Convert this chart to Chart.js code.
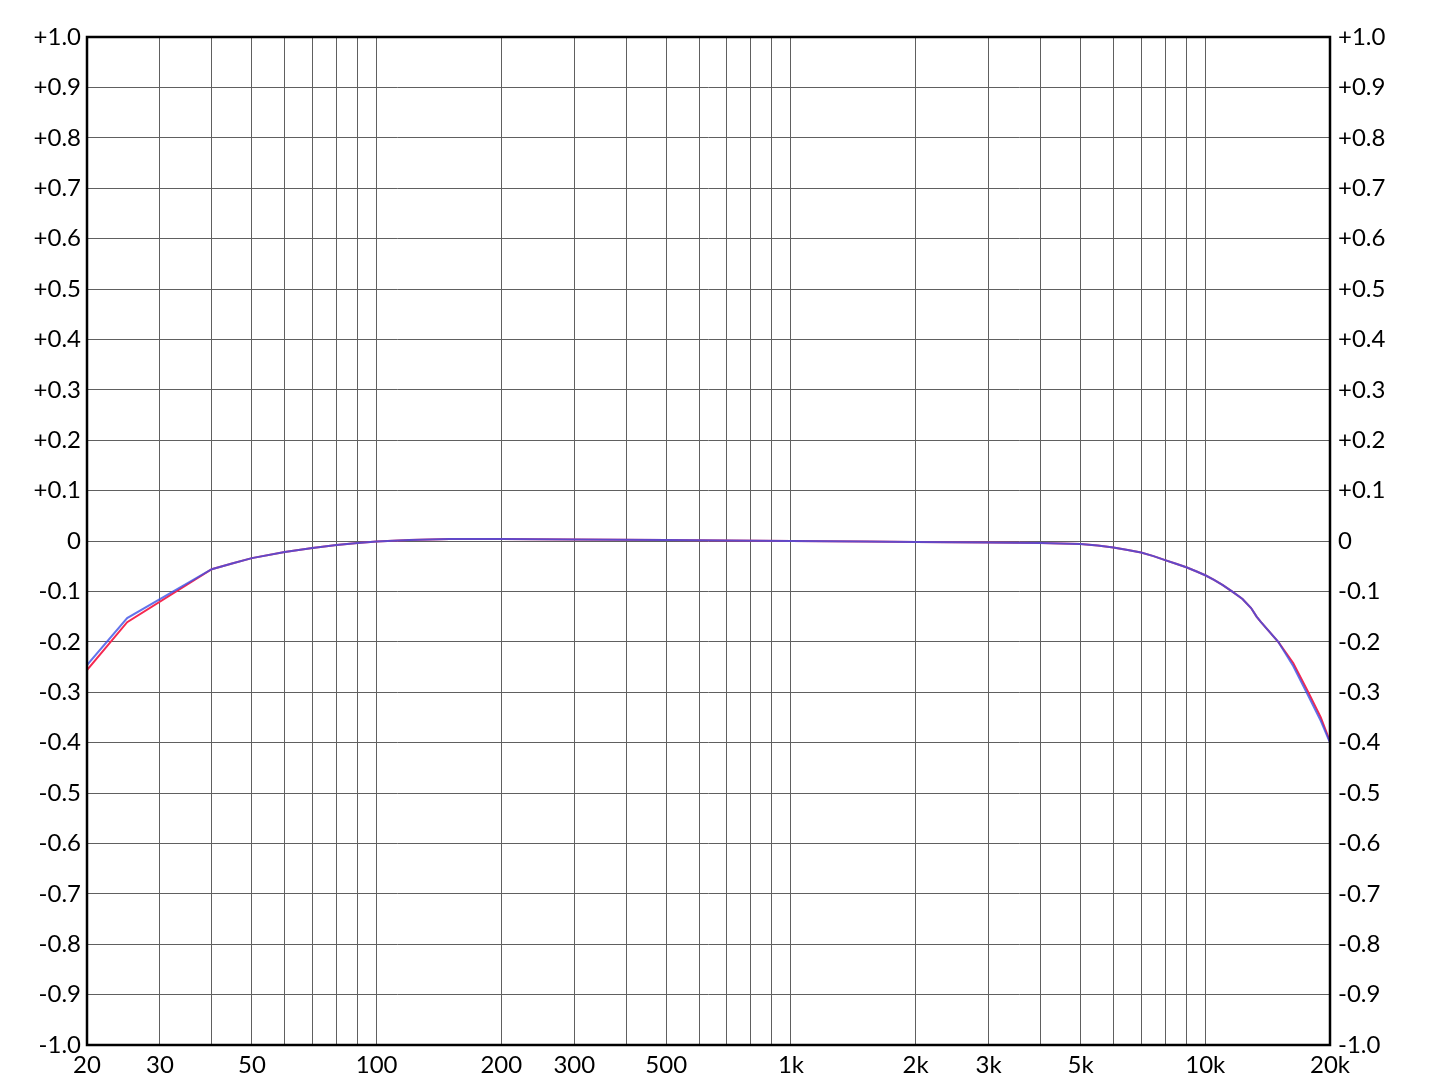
<!DOCTYPE html>
<html>
<head>
<meta charset="utf-8">
<script src="https://cdn.jsdelivr.net/npm/chart.js@4"></script>
<style>
	html, body { margin: 0; padding: 0; background: #fff; }
	#wrap { width: 1440px; height: 1080px; }
</style>
</head>
<body>
<div id="wrap"><canvas id="resp" width="1440" height="1080"></canvas></div>
<script>
// frequency points (Hz)
const freqs = [20, 25, 40, 45, 50, 60, 70, 80, 90, 100, 120, 150, 200, 300, 500, 700, 1000, 1500, 2000, 3000, 4000, 5000, 5500, 6000, 6500, 7000, 7500, 8000, 8500, 9000, 9500, 10000, 10500, 11000, 11600, 12300, 12900, 13300, 13600, 15000, 16300, 17700, 19000, 20000];
// level deviation, red channel
const redValues = [-0.256, -0.161, -0.056, -0.044, -0.034, -0.022, -0.014, -0.008, -0.004, -0.001, 0.002, 0.004, 0.004, 0.003, 0.002, 0.001, 0, -0.001, -0.002, -0.003, -0.004, -0.006, -0.009, -0.013, -0.018, -0.023, -0.030, -0.038, -0.045, -0.052, -0.060, -0.068, -0.077, -0.087, -0.100, -0.115, -0.133, -0.150, -0.160, -0.200, -0.242, -0.299, -0.350, -0.398];
// level deviation, blue channel
const blueValues = [-0.246, -0.153, -0.056, -0.044, -0.034, -0.022, -0.014, -0.008, -0.004, -0.001, 0.002, 0.004, 0.004, 0.003, 0.002, 0.001, 0, -0.001, -0.002, -0.003, -0.004, -0.006, -0.009, -0.013, -0.018, -0.023, -0.030, -0.038, -0.045, -0.052, -0.060, -0.068, -0.077, -0.087, -0.100, -0.115, -0.133, -0.150, -0.160, -0.200, -0.248, -0.306, -0.357, -0.400];
// vertical grid lines and which of them get a label
const gridFreqs = [20, 30, 40, 50, 60, 70, 80, 90, 100, 200, 300, 400, 500, 600, 700, 800, 900, 1000, 2000, 3000, 4000, 5000, 6000, 7000, 8000, 9000, 10000, 20000];
const labelFreqs = {20: "20", 30: "30", 50: "50", 100: "100", 200: "200", 300: "300", 500: "500", 1000: "1k", 2000: "2k", 3000: "3k", 5000: "5k", 10000: "10k", 20000: "20k"};

const font = { family: "Lato", size: 24 };

function yLabel(v) {
	const r = Math.round(v * 10) / 10;
	if (r === 0) return "0";
	return (r > 0 ? "+" : "") + r.toFixed(1);
}

/*black frame round the plot*/
const frame = {
	id: "frame",
	afterDraw(chart) {
		const a = chart.chartArea;
		const ctx = chart.ctx;
		ctx.save();
		ctx.strokeStyle = "#000";
		ctx.lineWidth = 2.5;
		ctx.strokeRect(a.left, a.top, a.right - a.left, a.bottom - a.top);
		ctx.restore();
	}
};

new Chart(document.getElementById("resp"), {
	type: "line",
	data: {
		datasets: [
			{
				label: "L",
				data: freqs.map((f, i) => ({ x: f, y: blueValues[i] })),
				borderColor: "rgba(60,80,230,0.8)",
				borderWidth: 2,
				pointRadius: 0,
				tension: 0
			},
			{
				label: "R",
				data: freqs.map((f, i) => ({ x: f, y: redValues[i] })),
				borderColor: "rgb(245,40,80)",
				borderWidth: 2,
				pointRadius: 0,
				tension: 0
			}
		]
	},
	options: {
		responsive: false,
		animation: false,
		layout: { padding: { top: 37, bottom: 0, left: 0, right: 0 } },
		plugins: { legend: { display: false }, tooltip: { enabled: false } },
		scales: {
			x: {
				type: "logarithmic",
				min: 20,
				max: 20000,
				afterBuildTicks: (scale) => {
					scale.ticks = gridFreqs.map((v) => ({ value: v }));
				},
				afterFit: (scale) => { scale.height = 35; },
				grid: { color: "#606060", lineWidth: 1, drawTicks: false },
				border: { display: false },
				ticks: {
					autoSkip: false,
					maxRotation: 0,
					padding: 6,
					color: "#000",
					font: font,
					callback: (v) => labelFreqs[v] || ""
				}
			},
			y: {
				position: "left",
				min: -1,
				max: 1,
				afterFit: (scale) => { scale.width = 87; },
				grid: { color: "#606060", lineWidth: 1, drawTicks: false },
				border: { display: false },
				ticks: { stepSize: 0.1, padding: 6, color: "#000", font: font, callback: yLabel }
			},
			y2: {
				position: "right",
				min: -1,
				max: 1,
				afterFit: (scale) => { scale.width = 110; },
				grid: { display: false, drawTicks: false },
				border: { display: false },
				ticks: { stepSize: 0.1, padding: 8, color: "#000", font: font, callback: yLabel }
			}
		}
	},
	plugins: [frame]
});
</script>
</body>
</html>
